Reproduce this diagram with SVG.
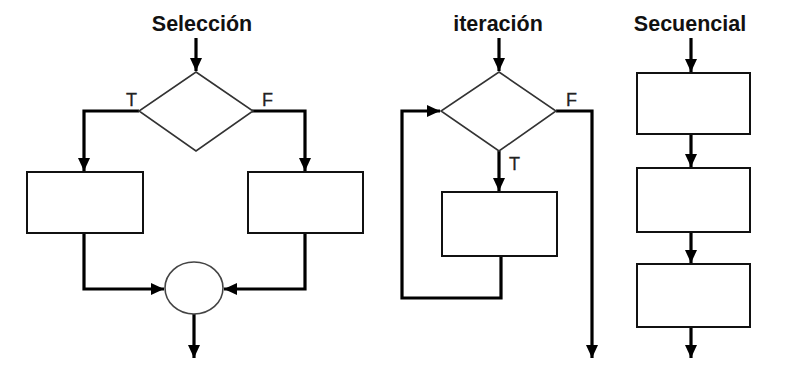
<svg xmlns="http://www.w3.org/2000/svg" width="800" height="380" viewBox="0 0 800 380">
<style>
.title{font-family:"Liberation Sans",Arial,sans-serif;font-weight:bold;font-size:21.5px;fill:#111;text-anchor:middle}
.lbl{font-family:"Liberation Sans",Arial,sans-serif;font-size:18px;fill:#222;stroke:#222;stroke-width:0.3}
.box{fill:#fff;stroke:#111;stroke-width:2}
.dia{fill:#fff;stroke:#333;stroke-width:1.6}
.conn{fill:none;stroke:#000;stroke-width:3.2}
</style>
<defs>
<marker id="ah" markerUnits="userSpaceOnUse" markerWidth="14" markerHeight="14" viewBox="0 0 14 14" refX="13" refY="7" orient="auto">
<path d="M0,1 L13,7 L0,13 Z" fill="#000"/>
</marker>
</defs>
<rect width="800" height="380" fill="#fff"/>
<text class="title" x="202" y="31">Selección</text>
<text class="title" x="498" y="31">iteración</text>
<text class="title" x="690" y="31">Secuencial</text>

<g id="connectors">
<path class="conn" d="M196,38 V71" marker-end="url(#ah)"/>
<path class="conn" d="M139,111 H84 V171" marker-end="url(#ah)"/>
<path class="conn" d="M252,111 H305 V171" marker-end="url(#ah)"/>
<path class="conn" d="M84,233 V289 H164" marker-end="url(#ah)"/>
<path class="conn" d="M305,233 V289 H224" marker-end="url(#ah)"/>
<path class="conn" d="M194,314 V358" marker-end="url(#ah)"/>
<path class="conn" d="M499,38 V71" marker-end="url(#ah)"/>
<path class="conn" d="M556,111 H592 V358" marker-end="url(#ah)"/>
<path class="conn" d="M499,151 V191" marker-end="url(#ah)"/>
<path class="conn" d="M501,256 V298 H402 V111 H440" marker-end="url(#ah)"/>
<path class="conn" d="M691,38 V72" marker-end="url(#ah)"/>
<path class="conn" d="M691,134 V167" marker-end="url(#ah)"/>
<path class="conn" d="M691,232 V263" marker-end="url(#ah)"/>
<path class="conn" d="M691,327 V358" marker-end="url(#ah)"/>
</g>

<g id="sel-decision"><polygon class="dia" points="196,72 253,111 196,151 139,111"/></g>
<g id="sel-true-box"><rect class="box" x="27" y="172" width="116" height="61"/></g>
<g id="sel-false-box"><rect class="box" x="248" y="172" width="115" height="61"/></g>
<g id="sel-merge"><ellipse cx="194" cy="288" rx="29" ry="26" fill="#fff" stroke="#444" stroke-width="1.6"/></g>

<g id="it-decision"><polygon class="dia" points="499,72 556,111 499,151 441,111"/></g>
<g id="it-box"><rect class="box" x="442" y="192" width="115" height="64"/></g>

<g id="seq-box1"><rect class="box" x="637" y="73" width="113" height="61"/></g>
<g id="seq-box2"><rect class="box" x="637" y="168" width="113" height="64"/></g>
<g id="seq-box3"><rect class="box" x="637" y="264" width="113" height="63"/></g>

<text class="lbl" x="126" y="106">T</text>
<text class="lbl" x="262" y="106">F</text>
<text class="lbl" x="566" y="106">F</text>
<text class="lbl" x="509" y="170">T</text>
</svg>
